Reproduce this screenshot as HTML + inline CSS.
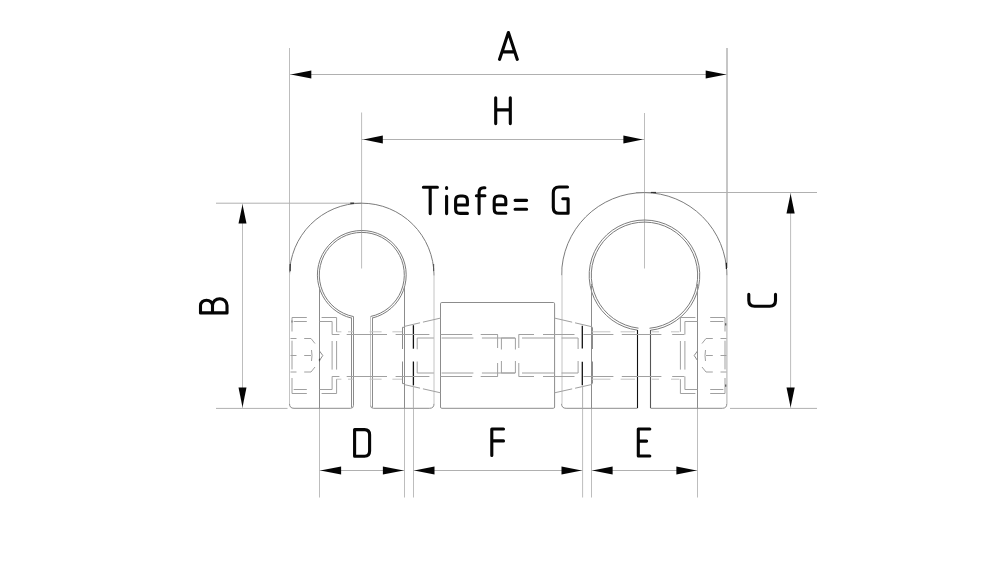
<!DOCTYPE html>
<html><head><meta charset="utf-8"><title>Drawing</title>
<style>html,body{margin:0;padding:0;background:#fff;}svg{display:block;}</style></head>
<body>
<svg width="1000" height="573" viewBox="0 0 1000 573">
<rect width="1000" height="573" fill="#fff"/>
<line x1="289.5" y1="48" x2="289.5" y2="270" stroke="#bdbdbd" stroke-width="1" />
<line x1="727" y1="48" x2="727" y2="268" stroke="#b8b8b8" stroke-width="1.6" />
<line x1="290" y1="74.5" x2="727" y2="74.5" stroke="#b0b0b0" stroke-width="1" />
<polygon points="290.8,74.5 311.3,70.5 311.3,78.5" fill="#050505"/>
<polygon points="726.2,74.5 705.7,70.5 705.7,78.5" fill="#050505"/>
<line x1="361.6" y1="112.5" x2="361.6" y2="268.5" stroke="#bdbdbd" stroke-width="1" />
<line x1="644.5" y1="113" x2="644.5" y2="268.5" stroke="#bdbdbd" stroke-width="1" />
<line x1="361.6" y1="139.5" x2="644.5" y2="139.5" stroke="#b0b0b0" stroke-width="1" />
<polygon points="363.4,139.5 382.79999999999995,135.5 382.79999999999995,143.5" fill="#050505"/>
<polygon points="642.8,139.5 623.4,135.5 623.4,143.5" fill="#050505"/>
<line x1="216" y1="203.2" x2="362" y2="203.2" stroke="#b0b0b0" stroke-width="1" />
<line x1="216" y1="408.4" x2="287.5" y2="408.4" stroke="#b0b0b0" stroke-width="1" />
<line x1="242.5" y1="203.2" x2="242.5" y2="408.4" stroke="#bdbdbd" stroke-width="1" />
<polygon points="242.5,204.5 238.5,223.5 246.5,223.5" fill="#050505"/>
<polygon points="242.5,407.2 238.5,387.4 246.5,387.4" fill="#050505"/>
<line x1="636" y1="192.5" x2="817" y2="192.5" stroke="#b0b0b0" stroke-width="1" />
<line x1="730" y1="408.4" x2="817" y2="408.4" stroke="#b0b0b0" stroke-width="1" />
<line x1="790.6" y1="192.5" x2="790.6" y2="408.4" stroke="#bdbdbd" stroke-width="1" />
<polygon points="790.6,193.7 786.5,213.5 794.7,213.5" fill="#050505"/>
<polygon points="790.6,407.2 786.5,387.4 794.7,387.4" fill="#050505"/>
<line x1="319.5" y1="408.4" x2="319.5" y2="497.5" stroke="#bdbdbd" stroke-width="1" />
<line x1="404.5" y1="408.4" x2="404.5" y2="497.5" stroke="#bdbdbd" stroke-width="1" />
<line x1="413.5" y1="408.4" x2="413.5" y2="497.5" stroke="#bdbdbd" stroke-width="1" />
<line x1="582.6" y1="408.4" x2="582.6" y2="497.5" stroke="#bdbdbd" stroke-width="1" />
<line x1="591.5" y1="408.4" x2="591.5" y2="497.5" stroke="#bdbdbd" stroke-width="1" />
<line x1="697.5" y1="408.4" x2="697.5" y2="497.5" stroke="#bdbdbd" stroke-width="1" />
<line x1="319.5" y1="470.5" x2="404.5" y2="470.5" stroke="#b0b0b0" stroke-width="1" />
<line x1="413.4" y1="470.5" x2="582.6" y2="470.5" stroke="#b0b0b0" stroke-width="1" />
<line x1="591.5" y1="470.5" x2="697.5" y2="470.5" stroke="#b0b0b0" stroke-width="1" />
<polygon points="320.3,470.5 341.1,466.5 341.1,474.5" fill="#050505"/>
<polygon points="403.7,470.5 382.9,466.5 382.9,474.5" fill="#050505"/>
<polygon points="414.2,470.5 434.5,466.5 434.5,474.5" fill="#050505"/>
<polygon points="581.8,470.5 561.5,466.5 561.5,474.5" fill="#050505"/>
<polygon points="592.3,470.5 612.5999999999999,466.5 612.5999999999999,474.5" fill="#050505"/>
<polygon points="696.7,470.5 676.4000000000001,466.5 676.4000000000001,474.5" fill="#050505"/>
<path d="M289.5,275.45 A72.25,72.25 0 0 1 434.0,275.45" fill="none" stroke="#7c7c7c" stroke-width="1" />
<line x1="289.5" y1="272.45" x2="289.5" y2="403.8" stroke="#c4c4c4" stroke-width="1" />
<line x1="434.0" y1="272.45" x2="434.0" y2="403.8" stroke="#c4c4c4" stroke-width="1" />
<path d="M289.5,403.8 Q289.5,408.3 294.0,408.3 H350.5 Q353.5,408.3 353.5,405.3" fill="none" stroke="#8c8c8c" stroke-width="1" />
<path d="M434.0,403.8 Q434.0,408.3 429.5,408.3 H373.5 Q370.5,408.3 370.5,405.3" fill="none" stroke="#8c8c8c" stroke-width="1" />
<path d="M351.50,318.09 A44.4,44.4 0 1 1 372.50,317.99" fill="none" stroke="#7c7c7c" stroke-width="1" />
<path d="M353.50,316.58 A42.5,42.5 0 1 1 370.50,316.50" fill="none" stroke="#7c7c7c" stroke-width="1" />
<line x1="351.5" y1="317.5" x2="351.5" y2="407.5" stroke="#8c8c8c" stroke-width="1" />
<line x1="353.5" y1="316.5" x2="353.5" y2="405.3" stroke="#8c8c8c" stroke-width="1" />
<line x1="370.5" y1="316.5" x2="370.5" y2="405.3" stroke="#c4c4c4" stroke-width="1" />
<line x1="372.5" y1="317.5" x2="372.5" y2="407.5" stroke="#8c8c8c" stroke-width="1" />
<line x1="319.5" y1="287" x2="319.5" y2="408.3" stroke="#8c8c8c" stroke-width="1" />
<line x1="404.5" y1="286" x2="404.5" y2="408.3" stroke="#8c8c8c" stroke-width="1" />
<path d="M561.6,275.19999999999993 A82.59999999999997,82.59999999999997 0 0 1 726.8,275.19999999999993" fill="none" stroke="#7c7c7c" stroke-width="1" />
<line x1="726.9" y1="269.19999999999993" x2="726.9" y2="403.8" stroke="#b4b4b4" stroke-width="1.1" />
<line x1="562.0" y1="269.19999999999993" x2="562.0" y2="403.8" stroke="#c4c4c4" stroke-width="1" />
<path d="M561.6,403.8 Q561.6,408.3 566.1,408.3 H637.5" fill="none" stroke="#8c8c8c" stroke-width="1" />
<path d="M726.8,403.8 Q726.8,408.3 722.3,408.3 H650.5" fill="none" stroke="#8c8c8c" stroke-width="1" />
<path d="M637.50,330.16 A55.3,55.3 0 1 1 650.50,330.27" fill="none" stroke="#7c7c7c" stroke-width="1" />
<path d="M638.50,328.16 A53.2,53.2 0 1 1 649.50,328.26" fill="none" stroke="#7c7c7c" stroke-width="1" />
<line x1="637.5" y1="330" x2="637.5" y2="408" stroke="#111" stroke-width="1.1" />
<line x1="650.5" y1="330" x2="650.5" y2="408" stroke="#555" stroke-width="1.1" />
<line x1="591.5" y1="284" x2="591.5" y2="408.3" stroke="#8c8c8c" stroke-width="1" />
<line x1="697.5" y1="284" x2="697.5" y2="408.3" stroke="#8c8c8c" stroke-width="1" />
<line x1="290.2" y1="264" x2="290.2" y2="271.2" stroke="#333" stroke-width="1.2" />
<line x1="726.4" y1="262.8" x2="726.4" y2="269" stroke="#222" stroke-width="1.2" />
<line x1="350.3" y1="203.2" x2="354.1" y2="203.2" stroke="#222" stroke-width="1.2" />
<line x1="650.9" y1="192.5" x2="656" y2="192.5" stroke="#333" stroke-width="1.2" />
<line x1="319.5" y1="358.8" x2="319.5" y2="361.2" stroke="#222" stroke-width="1.2" />
<line x1="725.6" y1="323.2" x2="725.6" y2="325.4" stroke="#222" stroke-width="1.2" />
<line x1="725.6" y1="384.6" x2="725.6" y2="386.8" stroke="#222" stroke-width="1.2" />
<line x1="292" y1="320.5" x2="292" y2="322.5" stroke="#444" stroke-width="1.1" />
<line x1="433.6" y1="264" x2="433.6" y2="271" stroke="#555" stroke-width="1.1" />
<path d="M440.5,303.8 Q440.5,302.5 441.8,302.5 H553.3 Q554.6,302.5 554.6,303.8 V407 Q554.6,408.3 553.3,408.3 H441.8 Q440.5,408.3 440.5,407 Z" fill="none" stroke="#8c8c8c" stroke-width="1" />
<path d="M440.5,318.1 L404.4,326.4" fill="none" stroke="#a0a0a0" stroke-width="1" stroke-dasharray="18,3"/>
<path d="M440.5,392.8 L404.4,384.6" fill="none" stroke="#a0a0a0" stroke-width="1" stroke-dasharray="18,3"/>
<path d="M554.6,318.1 L592.2,326.8" fill="none" stroke="#a0a0a0" stroke-width="1" stroke-dasharray="18,3"/>
<path d="M554.6,392.8 L592.2,384.4" fill="none" stroke="#a0a0a0" stroke-width="1" stroke-dasharray="18,3"/>
<line x1="402.5" y1="327.3" x2="402.5" y2="349" stroke="#8c8c8c" stroke-width="1" />
<line x1="402.5" y1="361.5" x2="402.5" y2="383.6" stroke="#8c8c8c" stroke-width="1" />
<line x1="592.5" y1="327.3" x2="592.5" y2="349" stroke="#8c8c8c" stroke-width="1" />
<line x1="592.5" y1="361.5" x2="592.5" y2="383.6" stroke="#8c8c8c" stroke-width="1" />
<line x1="402.5" y1="327.3" x2="404.5" y2="327.3" stroke="#8c8c8c" stroke-width="1" />
<line x1="402.5" y1="383.6" x2="404.5" y2="383.6" stroke="#8c8c8c" stroke-width="1" />
<line x1="413.4" y1="325.2" x2="413.4" y2="348.7" stroke="#111" stroke-width="1.3" />
<line x1="413.4" y1="361.5" x2="413.4" y2="385.5" stroke="#111" stroke-width="1.3" />
<line x1="582.3" y1="325.8" x2="582.3" y2="348.5" stroke="#111" stroke-width="1.3" />
<line x1="582.3" y1="361.8" x2="582.3" y2="385.3" stroke="#111" stroke-width="1.3" />
<line x1="413.4" y1="385.5" x2="413.4" y2="408.4" stroke="#b0b0b0" stroke-width="1" />
<line x1="582.6" y1="385.5" x2="582.6" y2="408.4" stroke="#b0b0b0" stroke-width="1" />
<line x1="332.1" y1="334.5" x2="339.4" y2="334.5" stroke="#a0a0a0" stroke-width="1" />
<line x1="346.7" y1="334.5" x2="387" y2="334.5" stroke="#a0a0a0" stroke-width="1" />
<line x1="395.6" y1="334.5" x2="429.4" y2="334.5" stroke="#a0a0a0" stroke-width="1" />
<line x1="440.4" y1="334.5" x2="472.2" y2="334.5" stroke="#a0a0a0" stroke-width="1" />
<line x1="480.7" y1="334.5" x2="497.8" y2="334.5" stroke="#a0a0a0" stroke-width="1" />
<line x1="518.7" y1="334.5" x2="534" y2="334.5" stroke="#a0a0a0" stroke-width="1" />
<line x1="543" y1="334.5" x2="574.5" y2="334.5" stroke="#a0a0a0" stroke-width="1" />
<line x1="583.5" y1="334.5" x2="613.4" y2="334.5" stroke="#a0a0a0" stroke-width="1" />
<line x1="621.8" y1="334.5" x2="661.4" y2="334.5" stroke="#a0a0a0" stroke-width="1" />
<line x1="672.2" y1="334.5" x2="684.4" y2="334.5" stroke="#a0a0a0" stroke-width="1" />
<line x1="332.1" y1="376.5" x2="339.4" y2="376.5" stroke="#a0a0a0" stroke-width="1" />
<line x1="346.7" y1="376.5" x2="387" y2="376.5" stroke="#a0a0a0" stroke-width="1" />
<line x1="395.6" y1="376.5" x2="429.4" y2="376.5" stroke="#a0a0a0" stroke-width="1" />
<line x1="440.4" y1="376.5" x2="472.2" y2="376.5" stroke="#a0a0a0" stroke-width="1" />
<line x1="480.7" y1="376.5" x2="497.8" y2="376.5" stroke="#a0a0a0" stroke-width="1" />
<line x1="518.7" y1="376.5" x2="534" y2="376.5" stroke="#a0a0a0" stroke-width="1" />
<line x1="543" y1="376.5" x2="574.5" y2="376.5" stroke="#a0a0a0" stroke-width="1" />
<line x1="583.5" y1="376.5" x2="613.4" y2="376.5" stroke="#a0a0a0" stroke-width="1" />
<line x1="621.8" y1="376.5" x2="661.4" y2="376.5" stroke="#a0a0a0" stroke-width="1" />
<line x1="672.2" y1="376.5" x2="684.4" y2="376.5" stroke="#a0a0a0" stroke-width="1" />
<line x1="417.2" y1="338.0" x2="433.8" y2="338.0" stroke="#a0a0a0" stroke-width="1" />
<line x1="441.6" y1="338.0" x2="473.4" y2="338.0" stroke="#a0a0a0" stroke-width="1" />
<line x1="481.9" y1="338.0" x2="515.2" y2="338.0" stroke="#a0a0a0" stroke-width="1" />
<line x1="501.2" y1="338.0" x2="515.2" y2="338.0" stroke="#a0a0a0" stroke-width="1" />
<line x1="522" y1="338.0" x2="554.5" y2="338.0" stroke="#a0a0a0" stroke-width="1" />
<line x1="561.5" y1="338.0" x2="578.1" y2="338.0" stroke="#a0a0a0" stroke-width="1" />
<line x1="417.2" y1="373.0" x2="433.8" y2="373.0" stroke="#a0a0a0" stroke-width="1" />
<line x1="441.6" y1="373.0" x2="473.4" y2="373.0" stroke="#a0a0a0" stroke-width="1" />
<line x1="481.9" y1="373.0" x2="515.2" y2="373.0" stroke="#a0a0a0" stroke-width="1" />
<line x1="501.2" y1="373.0" x2="515.2" y2="373.0" stroke="#a0a0a0" stroke-width="1" />
<line x1="522" y1="373.0" x2="554.5" y2="373.0" stroke="#a0a0a0" stroke-width="1" />
<line x1="561.5" y1="373.0" x2="578.1" y2="373.0" stroke="#a0a0a0" stroke-width="1" />
<line x1="497.6" y1="334.5" x2="497.6" y2="348" stroke="#a0a0a0" stroke-width="1" />
<line x1="497.6" y1="363" x2="497.6" y2="376.5" stroke="#a0a0a0" stroke-width="1" />
<line x1="518.8" y1="334.5" x2="518.8" y2="348" stroke="#a0a0a0" stroke-width="1" />
<line x1="518.8" y1="363" x2="518.8" y2="376.5" stroke="#a0a0a0" stroke-width="1" />
<line x1="501.4" y1="338" x2="501.4" y2="349.5" stroke="#a0a0a0" stroke-width="1" />
<line x1="501.4" y1="361" x2="501.4" y2="373" stroke="#a0a0a0" stroke-width="1" />
<line x1="515.4" y1="338" x2="515.4" y2="349.5" stroke="#a0a0a0" stroke-width="1" />
<line x1="515.4" y1="361" x2="515.4" y2="373" stroke="#a0a0a0" stroke-width="1" />
<line x1="417.2" y1="338" x2="417.2" y2="349.3" stroke="#a0a0a0" stroke-width="1" />
<line x1="417.2" y1="361.5" x2="417.2" y2="373" stroke="#a0a0a0" stroke-width="1" />
<line x1="578.1" y1="338" x2="578.1" y2="349" stroke="#a0a0a0" stroke-width="1" />
<line x1="578.1" y1="361" x2="578.1" y2="373" stroke="#a0a0a0" stroke-width="1" />
<line x1="336.6" y1="331.8" x2="341.4" y2="331.8" stroke="#c4c4c4" stroke-width="1" />
<line x1="348" y1="331.8" x2="353.4" y2="331.8" stroke="#c4c4c4" stroke-width="1" />
<line x1="369.6" y1="331.8" x2="381.6" y2="331.8" stroke="#c4c4c4" stroke-width="1" />
<line x1="392.4" y1="331.8" x2="402" y2="331.8" stroke="#c4c4c4" stroke-width="1" />
<line x1="591.8" y1="331.8" x2="610.4" y2="331.8" stroke="#c4c4c4" stroke-width="1" />
<line x1="620.6" y1="331.8" x2="635" y2="331.8" stroke="#c4c4c4" stroke-width="1" />
<line x1="651.8" y1="331.8" x2="659" y2="331.8" stroke="#c4c4c4" stroke-width="1" />
<line x1="671" y1="331.8" x2="679.4" y2="331.8" stroke="#c4c4c4" stroke-width="1" />
<line x1="336.6" y1="379.2" x2="341.4" y2="379.2" stroke="#c4c4c4" stroke-width="1" />
<line x1="348" y1="379.2" x2="353.4" y2="379.2" stroke="#c4c4c4" stroke-width="1" />
<line x1="369.6" y1="379.2" x2="381.6" y2="379.2" stroke="#c4c4c4" stroke-width="1" />
<line x1="392.4" y1="379.2" x2="402" y2="379.2" stroke="#c4c4c4" stroke-width="1" />
<line x1="591.8" y1="379.2" x2="610.4" y2="379.2" stroke="#c4c4c4" stroke-width="1" />
<line x1="620.6" y1="379.2" x2="635" y2="379.2" stroke="#c4c4c4" stroke-width="1" />
<line x1="651.8" y1="379.2" x2="659" y2="379.2" stroke="#c4c4c4" stroke-width="1" />
<line x1="671" y1="379.2" x2="679.4" y2="379.2" stroke="#c4c4c4" stroke-width="1" />
<g><line x1="292" y1="317.5" x2="292" y2="331.5" stroke="#a0a0a0" stroke-width="1"/>
<line x1="292" y1="340.7" x2="292" y2="369.4" stroke="#a0a0a0" stroke-width="1"/>
<line x1="292" y1="378" x2="292" y2="393.5" stroke="#a0a0a0" stroke-width="1"/>
<line x1="292" y1="317.5" x2="306.8" y2="317.5" stroke="#a0a0a0" stroke-width="1"/>
<line x1="293.7" y1="321.5" x2="306.8" y2="321.5" stroke="#a0a0a0" stroke-width="1"/>
<line x1="292" y1="393.5" x2="306.8" y2="393.5" stroke="#a0a0a0" stroke-width="1"/>
<line x1="293.7" y1="389.5" x2="306.8" y2="389.5" stroke="#a0a0a0" stroke-width="1"/>
<line x1="321.6" y1="317.5" x2="336.6" y2="317.5" stroke="#a0a0a0" stroke-width="1"/>
<line x1="336.6" y1="317.5" x2="336.6" y2="331.8" stroke="#a0a0a0" stroke-width="1"/>
<line x1="319.5" y1="321.5" x2="332.1" y2="321.5" stroke="#a0a0a0" stroke-width="1"/>
<line x1="332.1" y1="321.5" x2="332.1" y2="334.5" stroke="#a0a0a0" stroke-width="1"/>
<line x1="321.6" y1="393.5" x2="336.6" y2="393.5" stroke="#a0a0a0" stroke-width="1"/>
<line x1="336.6" y1="393.5" x2="336.6" y2="379.2" stroke="#a0a0a0" stroke-width="1"/>
<line x1="319.5" y1="389.5" x2="332.1" y2="389.5" stroke="#a0a0a0" stroke-width="1"/>
<line x1="332.1" y1="389.5" x2="332.1" y2="376.5" stroke="#a0a0a0" stroke-width="1"/>
<line x1="332.1" y1="341" x2="332.1" y2="369.6" stroke="#a0a0a0" stroke-width="1"/>
<line x1="336.6" y1="341" x2="336.6" y2="369.6" stroke="#a0a0a0" stroke-width="1"/>
<line x1="290.5" y1="338.5" x2="296.5" y2="338.5" stroke="#a0a0a0" stroke-width="1"/>
<line x1="304.2" y1="338.5" x2="311" y2="338.5" stroke="#a0a0a0" stroke-width="1"/>
<line x1="290.5" y1="355.5" x2="296.5" y2="355.5" stroke="#a0a0a0" stroke-width="1"/>
<line x1="304.2" y1="355.5" x2="311" y2="355.5" stroke="#a0a0a0" stroke-width="1"/>
<line x1="290.5" y1="372.0" x2="296.5" y2="372.0" stroke="#a0a0a0" stroke-width="1"/>
<line x1="304.2" y1="372.0" x2="311" y2="372.0" stroke="#a0a0a0" stroke-width="1"/>
<line x1="311" y1="338.5" x2="315" y2="343.5" stroke="#a0a0a0" stroke-width="1"/>
<line x1="311" y1="372" x2="315" y2="367" stroke="#a0a0a0" stroke-width="1"/>
<path d="M311.5,350 Q312.5,355.5 311.5,361" fill="none" stroke="#a0a0a0" stroke-width="1"/>
<path d="M319.5,351 L322.8,355.5 L319.5,360.5" fill="none" stroke="#8c8c8c" stroke-width="1"/></g>
<g transform="translate(1017,0) scale(-1,1)"><line x1="292" y1="317.5" x2="292" y2="331.5" stroke="#a0a0a0" stroke-width="1"/>
<line x1="292" y1="340.7" x2="292" y2="369.4" stroke="#a0a0a0" stroke-width="1"/>
<line x1="292" y1="378" x2="292" y2="393.5" stroke="#a0a0a0" stroke-width="1"/>
<line x1="292" y1="317.5" x2="306.8" y2="317.5" stroke="#a0a0a0" stroke-width="1"/>
<line x1="293.7" y1="321.5" x2="306.8" y2="321.5" stroke="#a0a0a0" stroke-width="1"/>
<line x1="292" y1="393.5" x2="306.8" y2="393.5" stroke="#a0a0a0" stroke-width="1"/>
<line x1="293.7" y1="389.5" x2="306.8" y2="389.5" stroke="#a0a0a0" stroke-width="1"/>
<line x1="321.6" y1="317.5" x2="336.6" y2="317.5" stroke="#a0a0a0" stroke-width="1"/>
<line x1="336.6" y1="317.5" x2="336.6" y2="331.8" stroke="#a0a0a0" stroke-width="1"/>
<line x1="319.5" y1="321.5" x2="332.1" y2="321.5" stroke="#a0a0a0" stroke-width="1"/>
<line x1="332.1" y1="321.5" x2="332.1" y2="334.5" stroke="#a0a0a0" stroke-width="1"/>
<line x1="321.6" y1="393.5" x2="336.6" y2="393.5" stroke="#a0a0a0" stroke-width="1"/>
<line x1="336.6" y1="393.5" x2="336.6" y2="379.2" stroke="#a0a0a0" stroke-width="1"/>
<line x1="319.5" y1="389.5" x2="332.1" y2="389.5" stroke="#a0a0a0" stroke-width="1"/>
<line x1="332.1" y1="389.5" x2="332.1" y2="376.5" stroke="#a0a0a0" stroke-width="1"/>
<line x1="332.1" y1="341" x2="332.1" y2="369.6" stroke="#a0a0a0" stroke-width="1"/>
<line x1="336.6" y1="341" x2="336.6" y2="369.6" stroke="#a0a0a0" stroke-width="1"/>
<line x1="290.5" y1="338.5" x2="296.5" y2="338.5" stroke="#a0a0a0" stroke-width="1"/>
<line x1="304.2" y1="338.5" x2="311" y2="338.5" stroke="#a0a0a0" stroke-width="1"/>
<line x1="290.5" y1="355.5" x2="296.5" y2="355.5" stroke="#a0a0a0" stroke-width="1"/>
<line x1="304.2" y1="355.5" x2="311" y2="355.5" stroke="#a0a0a0" stroke-width="1"/>
<line x1="290.5" y1="372.0" x2="296.5" y2="372.0" stroke="#a0a0a0" stroke-width="1"/>
<line x1="304.2" y1="372.0" x2="311" y2="372.0" stroke="#a0a0a0" stroke-width="1"/>
<line x1="311" y1="338.5" x2="315" y2="343.5" stroke="#a0a0a0" stroke-width="1"/>
<line x1="311" y1="372" x2="315" y2="367" stroke="#a0a0a0" stroke-width="1"/>
<path d="M311.5,350 Q312.5,355.5 311.5,361" fill="none" stroke="#a0a0a0" stroke-width="1"/>
<path d="M319.5,351 L322.8,355.5 L319.5,360.5" fill="none" stroke="#8c8c8c" stroke-width="1"/></g>
<g fill="none" stroke="#050505" stroke-width="3.1" stroke-linecap="round" stroke-linejoin="round">
<path d="M499.5,59.4 L508.4,32.5 L517.3,59.4 M502.0,51.9 H514.8"/>
<path d="M495.7,97.8 V123.6 M510.3,97.8 V123.6 M495.7,109.9 H510.3"/>
<path d="M423.4,187.2 H437.4 M430.2,187.2 V213.6"/>
<path d="M446.6,187.5 V188.4 M446.6,196.3 V213.6"/>
<path d="M455.6,205 H467.4 V200.5 Q467.4,196 462.9,196 H460.1 Q455.6,196 455.6,200.5 V209 Q455.6,213.4 460.1,213.4 H467.4"/>
<path d="M479.1,213.6 V192.5 Q479.1,187.7 483.6,187.7 H484.9 M476.4,195.75 H484.9"/>
<path d="M494.2,204.8 H505.8 V200.5 Q505.8,196 501.3,196 H498.7 Q494.2,196 494.2,200.5 V208.9 Q494.2,213.3 498.7,213.3 H505.8"/>
<path d="M515.1,200.35 H526.6 M515.1,209.2 H526.6"/>
<path d="M567.5,187 H559 Q553.3,187 553.3,193 V207.4 Q553.3,213.2 559,213.2 H568.1 V198.7 H562.8"/>
<path d="M200.5,312.9 H227 M200.5,312.9 V305.5 A6,5.3 0 0 1 212.5,305.5 V312.9 M212.5,305.5 A7.25,6.8 0 0 1 227,305.5 V312.9"/>
<path d="M748.8,294.4 V300.5 Q748.8,306.2 754.6,306.2 H769.7 Q775.5,306.2 775.5,300.5 V294.4"/>
<path d="M354.6,429.6 V456.2 H364.5 Q369.6,456.2 369.6,451 V434.8 Q369.6,429.6 364.5,429.6 Z"/>
<path d="M491.8,455.4 V429 H503.5 M491.8,440.9 H503.5"/>
<path d="M649.8,429 H638.3 V456 H649.8 M638.3,441.1 H646.6"/>
</g>
</svg>
</body></html>
